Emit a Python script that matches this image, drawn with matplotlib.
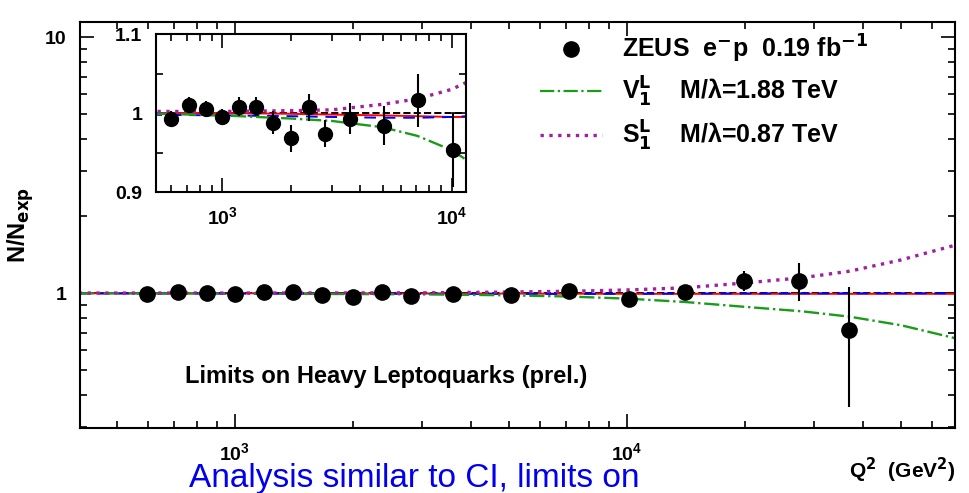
import matplotlib
matplotlib.use("Agg")
import matplotlib.pyplot as plt
from matplotlib.lines import Line2D

plt.rcParams['font.family'] = ['Liberation Sans', 'DejaVu Sans']
plt.rcParams['font.weight'] = 'bold'
plt.rcParams['mathtext.default'] = 'bf'

# data points (ratio N/N_exp)
q2 = [598, 717, 851, 1000, 1187, 1407, 1670, 2000, 2377, 2818, 3590, 5050, 7110, 10090,
      14060, 19860, 27400, 36900]
ratio = [0.993, 1.010, 1.005, 0.995, 1.008, 1.008, 0.988, 0.968, 1.007, 0.974, 0.993, 0.984, 1.016, 0.953,
         1.014, 1.116, 1.12, 0.72]
err_lo = [0.010, 0.010, 0.010, 0.010, 0.012, 0.012, 0.015, 0.017, 0.017, 0.017, 0.020, 0.025, 0.034, 0.047,
          0.05, 0.10, 0.19, 0.36]
err_hi = [0.010, 0.010, 0.010, 0.010, 0.012, 0.012, 0.015, 0.017, 0.017, 0.017, 0.020, 0.025, 0.034, 0.047,
          0.05, 0.11, 0.19, 0.34]

# model curves
curve_q2 = [400, 1000, 2000, 3000, 5000, 7100, 10000, 14000, 20000, 28000, 37000, 50000, 68600]
v1l = [1.0, 0.997, 0.993, 0.99, 0.982, 0.971, 0.953, 0.925, 0.885, 0.85, 0.81, 0.75, 0.668]
s1l = [1.002, 1.002, 1.003, 1.004, 1.011, 1.018, 1.03, 1.05, 1.097, 1.15, 1.22, 1.35, 1.54]
sm_red = [1.0, 1.0, 0.999, 0.998, 0.997, 0.996, 0.995, 0.995, 0.995, 0.995, 0.995, 0.995, 0.995]
sm_blue = [0.998, 0.997, 0.996, 0.995, 0.994, 0.994, 0.995, 0.997, 0.998, 0.999, 0.999, 1.0, 1.0]


def draw(ax, ms, lw):
    ax.axhline(1.0, color='black', ls='--', lw=lw)
    ax.plot(curve_q2, sm_red, color='red', lw=lw)
    ax.plot(curve_q2, sm_blue, color='blue', ls=(0, (6, 4)), lw=lw)
    ax.plot(curve_q2, v1l, color='#1a9c1a', ls='-.', lw=lw + 0.3)
    ax.plot(curve_q2, s1l, color='#a020a0', ls=':', lw=lw + 1.0)
    ax.errorbar(q2, ratio, yerr=[err_lo, err_hi], fmt='o', color='black', ms=ms,
                elinewidth=1.5, capsize=0)
    ax.tick_params(which='both', direction='in', top=True, right=True, width=1.2)
    ax.tick_params(which='major', length=10)
    ax.tick_params(which='minor', length=5)
    for s in ax.spines.values():
        s.set_linewidth(1.5)


fig = plt.figure(figsize=(9.7, 4.93), dpi=100)
ax = fig.add_axes([0.0825, 0.132, 0.902, 0.823])
draw(ax, 11, 1.4)
ax.set_xscale('log')
ax.set_yscale('log')
ax.set_xlim(403, 68600)
ax.set_ylim(0.298, 11.44)
ax.set_yticks([1, 10])
ax.set_yticklabels(['1', '10'])
ax.yaxis.set_minor_formatter(plt.NullFormatter())
ax.tick_params(labelsize=14, pad=10)
ax.set_ylabel('N/N$_{\\mathbf{exp}}$', fontsize=17, fontweight='bold', labelpad=6)
fig.text(0.985, 0.045, 'Q$^{\\mathbf{2}}$  (GeV$^{\\mathbf{2}}$)',
         ha='right', va='center', fontsize=15, fontweight='bold')
ax.text(0.12, 0.11, 'Limits on Heavy Leptoquarks (prel.)', transform=ax.transAxes,
        fontsize=17, fontweight='bold')

# legend
handles = [Line2D([], [], marker='o', color='black', ls='none', ms=11),
           Line2D([], [], color='#1a9c1a', ls='-.', lw=1.6),
           Line2D([], [], color='#a020a0', ls=':', lw=2.4)]
labels = ['ZEUS  e$^{\\mathbf{-}}$p  0.19 fb$^{\\mathbf{-1}}$',
          'V$_{\\mathbf{1}}^{\\mathbf{L}}$    M/λ=1.88 TeV',
          'S$_{\\mathbf{1}}^{\\mathbf{L}}$    M/λ=0.87 TeV']
ax.legend(handles, labels, loc='upper left', bbox_to_anchor=(0.5, 1.03), frameon=False,
          handlelength=2.5, labelspacing=0.4, prop={'weight': 'bold', 'size': 18})

# inset
ins = fig.add_axes([0.161, 0.6105, 0.319, 0.3205])
draw(ins, 10, 1.4)
ins.set_xscale('log')
ins.set_xlim(515, 11500)
ins.set_ylim(0.9, 1.1)
ins.set_yticks([0.9, 1.0, 1.1])
ins.set_yticklabels(['0.9', '1', '1.1'])
ins.set_yticks([0.95, 1.05], minor=True)
ins.xaxis.set_minor_formatter(plt.NullFormatter())
ins.tick_params(labelsize=14, pad=10)

fig.text(189 / 970, 0.012, 'Analysis similar to CI, limits on', color='#0000ee',
         fontsize=24, fontweight='normal', va='baseline')

fig.savefig('out.png', dpi=100)
